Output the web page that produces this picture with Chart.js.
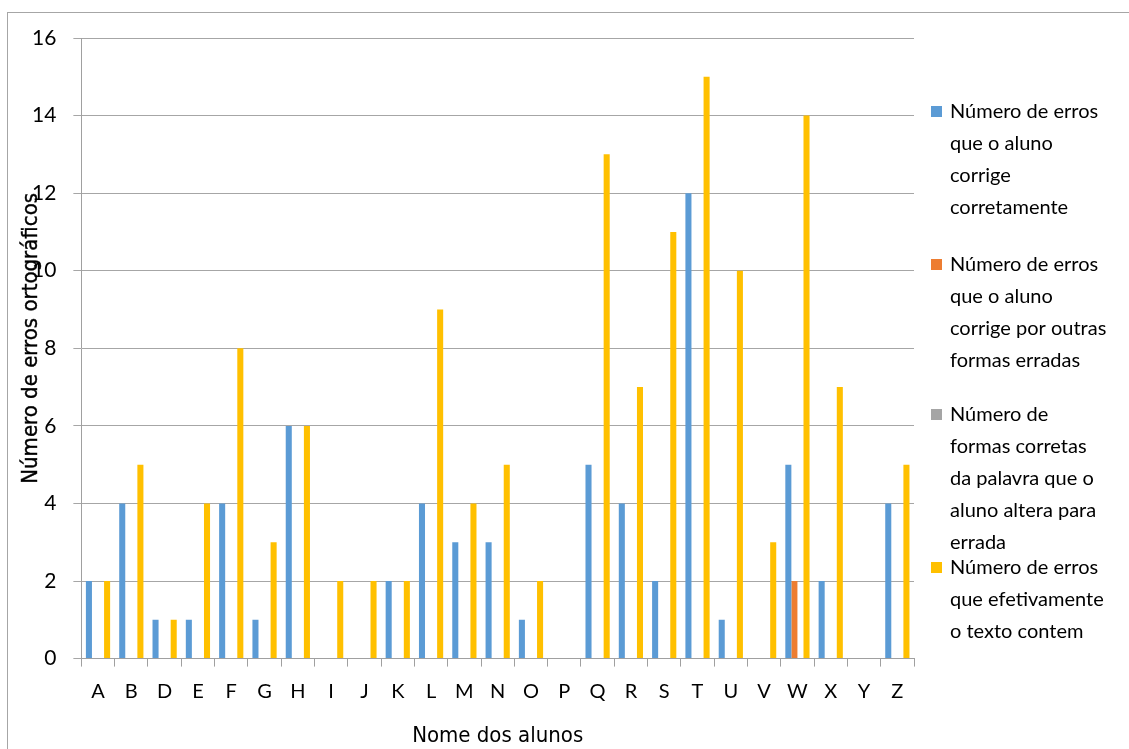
<!DOCTYPE html>
<html>
<head>
<meta charset="utf-8">
<script src="https://cdn.jsdelivr.net/npm/chart.js@4"></script>
<style>
  html, body { margin: 0; padding: 0; background: #fff; overflow: hidden; }
  #wrap { position: relative; width: 1129px; height: 749px; }
  #frame { position: absolute; left: 7px; top: 12px; width: 1200px; height: 800px;
           border-left: 1px solid #a6a6a6; border-top: 1px solid #a6a6a6; }
  #errosChart { position: absolute; left: 0; top: 0; }
</style>
</head>
<body>
<div id="wrap">
  <div id="frame"></div>
  <canvas id="errosChart" width="1129" height="749"></canvas>
</div>
<script>

// data
const alunos = ["A","B","D","E","F","G","H","I","J","K","L","M","N","O","P","Q","R","S","T","U","V","W","X","Y","Z"];
const corrigeCorretamente = [2,4,1,1,4,1,6,0,0,2,4,3,3,1,0,5,4,2,12,1,0,5,2,0,4];
const corrigeOutrasErradas = [0,0,0,0,0,0,0,0,0,0,0,0,0,0,0,0,0,0,0,0,0,2,0,0,0];
const alteraParaErrada = [0,0,0,0,0,0,0,0,0,0,0,0,0,0,0,0,0,0,0,0,0,0,0,0,0];
const errosNoTexto = [2,5,1,4,8,3,6,2,2,2,9,4,5,2,0,13,7,11,15,10,3,14,7,0,5];
const yTicks = [0,2,4,6,8,10,12,14,16];

const legendLines = [
    ["Número de erros", "que o aluno", "corrige", "corretamente"],
    ["Número de erros", "que o aluno", "corrige por outras", "formas erradas"],
    ["Número de", "formas corretas", "da palavra que o", "aluno altera para", "errada"],
    ["Número de erros", "que efetivamente", "o texto contem"]
];
const cores = ["#5b9bd5", "#ed7d31", "#a5a5a5", "#ffc000"];

const labelFont = "Lato, 'Open Sans', sans-serif";
const titleFont = "'DejaVu Sans Condensed', 'Liberation Sans', sans-serif";

// y axis title, drawn over the tick labels like in the original
const yTitlePlugin = {
    id: "yTitle",
    afterDraw(chart) {
        const ctx = chart.ctx;
        const area = chart.chartArea;
        ctx.save();
        ctx.translate(31, (area.top + area.bottom) / 2 - 10);
        ctx.rotate(-Math.PI / 2);
        ctx.font = "22px " + titleFont;
        ctx.fillStyle = "#000";
        ctx.strokeStyle = "#000";
        ctx.lineWidth = 0.4;
        ctx.textAlign = "center";
        ctx.textBaseline = "middle";
        ctx.fillText("Número de erros ortográficos", 0, 0);
        ctx.strokeText("Número de erros ortográficos", 0, 0);
        ctx.restore();
    }
};

// legend with wrapped lines on the right side
const legendPlugin = {
    id: "sideLegend",
    afterDraw(chart) {
        const ctx = chart.ctx;
        const startY = [112, 265, 415, 568];
        ctx.save();
        ctx.font = "20px " + labelFont;
        ctx.textBaseline = "middle";
        ctx.textAlign = "left";
        chart.data.datasets.forEach(function (ds, i) {
            ctx.fillStyle = ds.backgroundColor;
            ctx.fillRect(931, startY[i] - 6, 11, 11);
            ctx.fillStyle = "#000";
            ds.label.forEach(function (line, j) {
                ctx.fillText(line, 950, startY[i] + j * 32);
            });
        });
        ctx.restore();
    }
};

const datasets = [corrigeCorretamente, corrigeOutrasErradas, alteraParaErrada, errosNoTexto].map(function (vals, i) {
    return {
        label: legendLines[i],
        data: vals,
        backgroundColor: cores[i],
        borderWidth: 0,
        categoryPercentage: 4 / 5.5,
        barPercentage: 1.0
    };
});

new Chart(document.getElementById("errosChart"), {
    type: "bar",
    data: { labels: alunos, datasets: datasets },
    options: {
        responsive: false,
        devicePixelRatio: 1,
        animation: false,
        layout: { padding: { left: 15, right: 215, top: 38, bottom: 0 } },
        plugins: {
            legend: { display: false },
            tooltip: { enabled: false }
        },
        scales: {
            x: {
                grid: {
                    display: true,
                    drawOnChartArea: false,
                    drawTicks: true,
                    tickLength: 8,
                    color: "#a0a0a0",
                    offset: true
                },
                border: { display: true, color: "#a0a0a0" },
                ticks: {
                    color: "#000",
                    padding: 13,
                    font: { family: labelFont, size: 20 },
                    maxRotation: 0,
                    autoSkip: false
                },
                title: {
                    display: true,
                    text: "Nome dos alunos",
                    color: "#000",
                    padding: { top: 6, bottom: 0 },
                    font: { family: titleFont, size: 22 }
                }
            },
            y: {
                min: 0,
                max: 16,
                afterBuildTicks(scale) {
                    scale.ticks = yTicks.map(function (v) { return { value: v }; });
                },
                grid: {
                    color: "#a6a6a6",
                    drawTicks: true,
                    tickLength: 8
                },
                border: { display: true, color: "#a0a0a0" },
                ticks: {
                    color: "#000",
                    padding: 17,
                    font: { family: labelFont, size: 21 }
                }
            }
        }
    },
    plugins: [yTitlePlugin, legendPlugin]
});
</script>
</body>
</html>
